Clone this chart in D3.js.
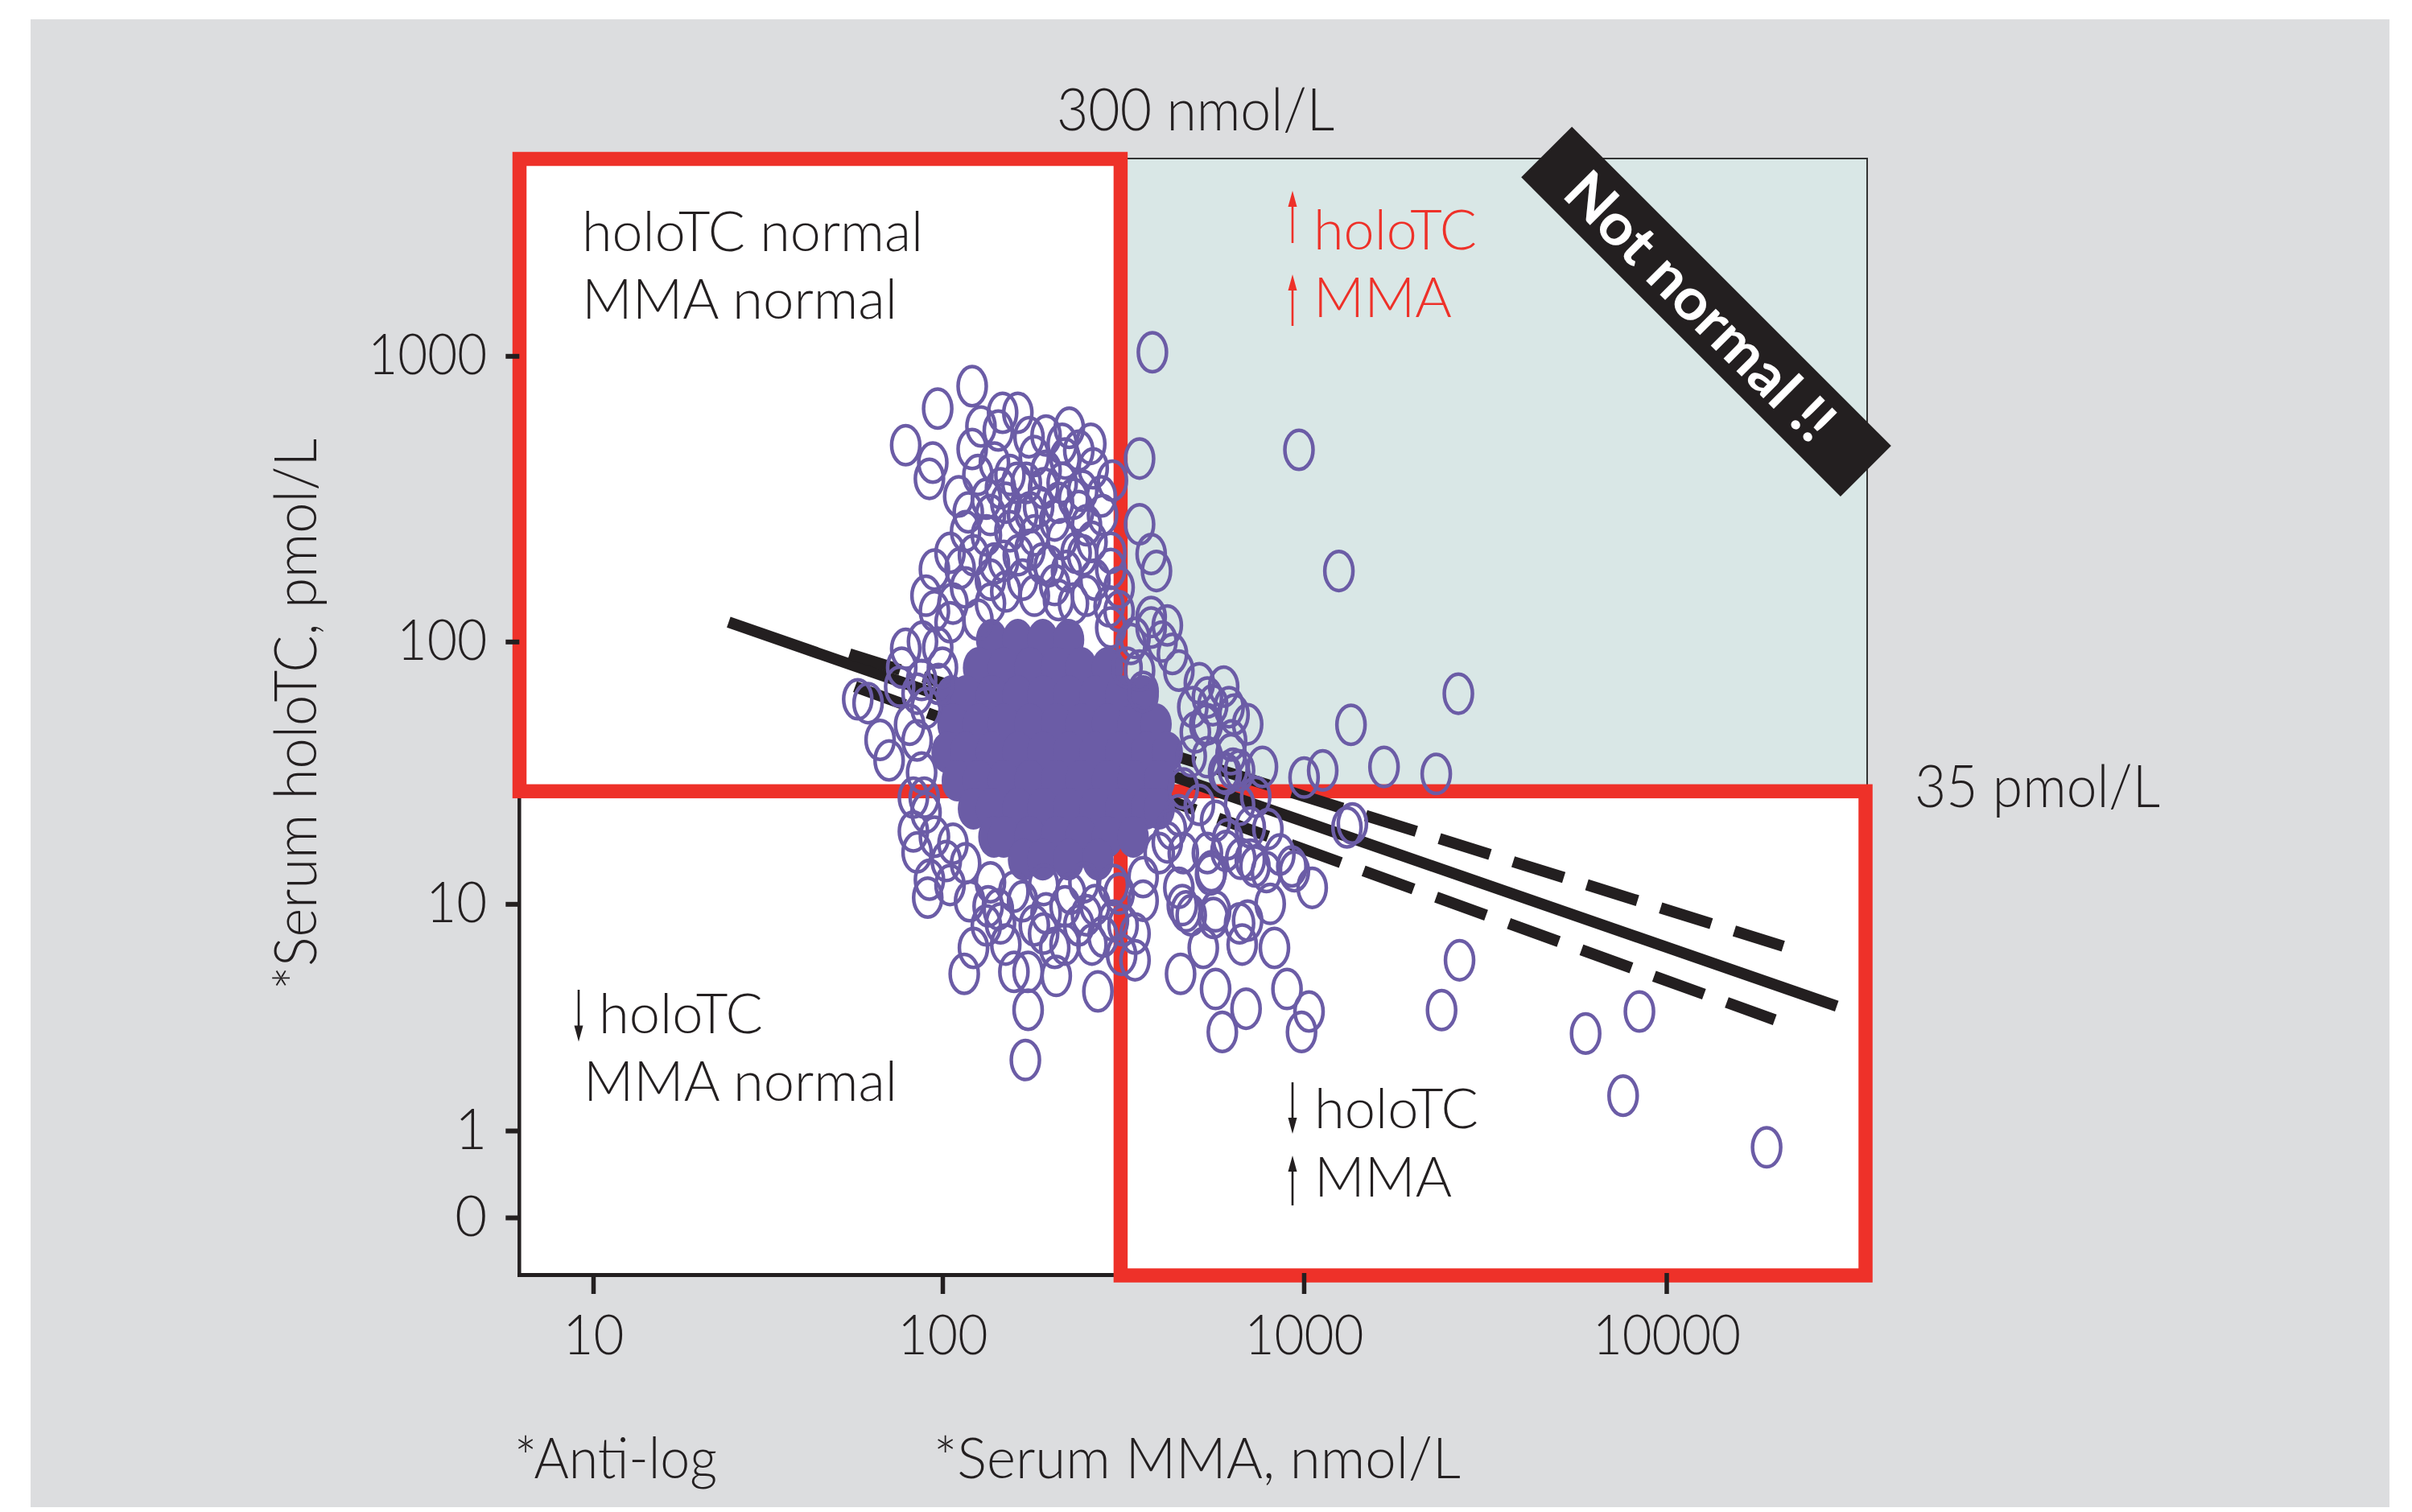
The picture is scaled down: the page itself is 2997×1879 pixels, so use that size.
<!DOCTYPE html>
<html><head><meta charset="utf-8">
<script src="https://cdn.jsdelivr.net/npm/d3@7"></script>
<style>
html,body{margin:0;padding:0;background:#fff;}
svg{display:block;}
</style></head><body>
<svg id="chart" width="2997" height="1879"></svg>
<script>
// ---------------- data ----------------
const xTickValues = [10, 100, 1000, 10000];          // Serum MMA, nmol/L
const yTickValues = [0, 1, 10, 100, 1000];           // Serum holoTC, pmol/L
const mmaCut = 312;     // vertical split as drawn (labelled 300 nmol/L)
const holoCut = 27.5;   // horizontal split as drawn (labelled 35 pmol/L)
const regressionLine = [[25, 117], [29500, 4.1]];
const upperBand = [[55, 90], [21000, 7.0]];
const lowerBand = [[57, 68], [19900, 3.6]];
// individual observations [MMA, holoTC]
const scatterPoints = [
[382,1030],[121,784],[97,655],[79,488],[94,424],[92,372],[147,633],[162,633],[128,567],[143,549],
[174,520],[225,561],[215,493],[258,493],[121,473],[180,447],[219,438],[262,405],[296,367],[352,438],
[276,323],[111,323],[145,345],[161,360],[191,345],[231,317],[118,284],[136,278],[175,284],[205,266],
[251,256],[352,258],[379,203],[392,177],[293,205],[293,180],[260,224],[235,205],[105,205],[95,179],
[112,181],[148,192],[175,210],[198,184],[136,165],[167,165],[205,158],[107,136],[231,136],[290,133],
[136,136],[105,117],[88,100],[79,94],[293,112],[379,112],[406,100],[434,90],[342,103],[601,68],
[561,58],[622,57],[533,49],[62,59],[58,61],[67,43],[77,80],[81,49],[76,68],[85,64],
[97,95],[71,36],[83,26],[89,26],[83,19.3],[85,16],[92,12.5],[91,10.6],[107,17.3],[116,14.5],
[134,9.8],[122,6.9],[115,5.5],[150,7.1],[158,5.6],[173,5.6],[173,3.96],[170,2.4],[207,5.4],[191,7.8],
[219,9.8],[260,7.1],[270,4.7],[279,7.6],[342,6.2],[342,7.8],[360,10.3],[452,11.6],[457,5.5],[489,9.1],
[528,6.9],[571,4.8],[596,3.2],[563,8.9],[553,13.1],[542,15.9],[665,8.5],[676,7.1],[670,15.1],[693,4.0],
[136,12.2],[158,11.2],[191,11.9],[247,12.2],[298,11.9],[420,17.5],[452,22.3],[1250,177],[2670,64],[1350,49],
[769,34],[1002,31],[1128,33],[1665,34],[2320,32],[1316,20],[1362,20.7],[420,114],[542,62],[642,53.5],
[665,33],[611,32],[542,37],[712,20],[616,18],[859,15.7],[927,14.1],[1055,11.6],[789,13.4],[712,15],
[556,13.5],[808,10],[571,9.4],[473,9.4],[700,8.7],[2690,6.2],[2400,3.95],[5990,3.15],[8430,3.9],[7600,1.6],
[18900,0.75],[986,3.2],[1034,3.9],[899,4.8],[830,6.9],[462,9.9],[942,13.5],[733,14.1],[610,16.2],[638,33.5],
[970,470],[630,38],[205,6.9],[515,70],[379,122],[452,78],[352,78],[494,57],[145,8.5],[219,7.1],
[314,6.5],[251,9.1],[298,8.7],
[125.5,384],[139.5,424],[154,384],[171,360],[194,397],[215,360],[245,338],[132.5,317],[150,307],[167,278],
[185,297],[210,307],[239,287],[116,244],[132.5,236],[154,244],[180,236],[215,229],[245,201],[122,201],
[139.5,188],[162.5,201],[189.5,188],[221,177],[265,165],[116,155],[150,150],[180,145],[210,140],[251,145],
[309,155],[125.5,119.5],[95,128],[90,145],[309,128],[333,98],[100,80],[87.5,72],[325,80],[360,65],
[194,527],[239,467],[278,278],
[105,11.9],[119,10.25],[143,9.56],[167,10.25],[194,9.25],[227,11.0],[265,9.9],[309,11.0],[360,12.8],[399,15.9],
[431,19.7],[465,28.2],[489,37.3],[502,45.9],[465,15.9],[132.5,8.36],[180,8.36],[239,8.36],[317,8.36],[102.5,14.8],
[95,18.4],[90,22.8],[87.5,32.4],[85,42.8],[90,56.6],[97.5,69.6],
[515,24.4],[571,21.2],[601,32.4],[665,24.4],[737,26.2],[796,19.7],[632,42.8],[700,49.2],[542,49.2]
];
// dense core of overlapping observations: holoTC row with MMA values
const denseRows = [
  {holo: 101.5, mma: [137, 162, 190, 224]},
  {holo: 79.9,  mma: [126, 148, 175, 207, 243, 287]},
  {holo: 62.7,  mma: [106, 116, 137, 162, 190, 224, 265, 312, 360]},
  {holo: 49.2,  mma: [107, 126, 148, 175, 207, 243, 287, 338, 391]},
  {holo: 38.6,  mma: [103, 116, 137, 162, 190, 224, 265, 312, 368, 420]},
  {holo: 30.2,  mma: [110, 126, 148, 175, 207, 243, 287, 338, 399]},
  {holo: 23.6,  mma: [122, 137, 162, 190, 224, 265, 312, 368, 399]},
  {holo: 18.4,  mma: [139, 148, 175, 207, 243, 287, 338]},
  {holo: 15.0,  mma: [168, 190, 224, 270]}
];

// ---------------- layout / style ----------------
const C = {grey:"#dcdddf", teal:"#d9e7e6", red:"#ee3129", black:"#231f20", purple:"#6b5ca6"};
const FONT = "Lato, 'Open Sans', sans-serif";
const plot = {left: 645.5, right: 2320, top: 197, bottom: 1585};

const x = d3.scaleSymlog().constant(1).domain([10, 10000]).range([737, 2070.5]);
const y = d3.scaleSymlog().constant(1).domain(yTickValues).range([1513, 1405, 1123.3, 797.3, 442.3]);

const svg = d3.select("#chart");
svg.append("rect").attr("x", 38).attr("y", 24).attr("width", 2931).attr("height", 1849).attr("fill", C.grey);
svg.append("rect").attr("x", plot.left).attr("y", plot.top)
  .attr("width", plot.right - plot.left).attr("height", plot.bottom - plot.top).attr("fill", "#fff");

const xc = x(mmaCut), yc = y(holoCut);
svg.append("rect").attr("x", xc).attr("y", plot.top).attr("width", plot.right - xc)
  .attr("height", yc - plot.top).attr("fill", C.teal);
svg.append("path").attr("d", `M${xc},${plot.top} H${plot.right} V${yc}`)
  .attr("fill", "none").attr("stroke", "#333").attr("stroke-width", 2);

// axis lines
svg.append("line").attr("x1", 645.3).attr("x2", 645.3).attr("y1", plot.top).attr("y2", 1587)
  .attr("stroke", C.black).attr("stroke-width", 4.5);
svg.append("line").attr("x1", 643).attr("x2", plot.right).attr("y1", 1584.5).attr("y2", 1584.5)
  .attr("stroke", C.black).attr("stroke-width", 5);

// red quadrant boxes
const redW = 17.5;
svg.append("rect").attr("x", plot.left).attr("y", plot.top + 0.5)
  .attr("width", xc - plot.left).attr("height", yc - plot.top - 0.5)
  .attr("fill", "none").attr("stroke", C.red).attr("stroke-width", redW);
svg.append("rect").attr("x", xc).attr("y", yc)
  .attr("width", plot.right - 2 - xc).attr("height", plot.bottom - yc)
  .attr("fill", "none").attr("stroke", C.red).attr("stroke-width", redW);

// regression lines
const line = d3.line().x(d => x(d[0])).y(d => y(d[1]));
svg.append("path").attr("d", line(regressionLine)).attr("fill", "none")
  .attr("stroke", C.black).attr("stroke-width", 14);
[upperBand, lowerBand].forEach(b => {
  svg.append("path").attr("d", line(b)).attr("fill", "none")
    .attr("stroke", C.black).attr("stroke-width", 14).attr("stroke-dasharray", "66 30");
});

// dense core
const densePts = denseRows.flatMap(r => r.mma.map(m => [m, r.holo]));
svg.append("g").selectAll("ellipse").data(densePts).join("ellipse")
  .attr("cx", d => x(d[0])).attr("cy", d => y(d[1])).attr("rx", 19.5).attr("ry", 26)
  .attr("fill", C.purple);
// open circles
svg.append("g").selectAll("ellipse").data(scatterPoints).join("ellipse")
  .attr("cx", d => x(d[0])).attr("cy", d => y(d[1])).attr("rx", 17.5).attr("ry", 24.3)
  .attr("fill", "none").attr("stroke", C.purple).attr("stroke-width", 4.5);

// axes (ticks + labels)
const digitLen = d => String(d).length * 36 + 4;
const gx = svg.append("g").attr("transform", "translate(0,1582)")
  .call(d3.axisBottom(x).tickValues(xTickValues).tickFormat(d3.format("d")).tickSize(26).tickPadding(26));
gx.attr("color", C.black).attr("font-family", FONT).attr("font-size", 69).attr("font-weight", 300);
gx.select(".domain").remove();
gx.selectAll(".tick line").attr("stroke-width", 5.5);
gx.selectAll(".tick text").attr("textLength", digitLen).attr("lengthAdjust", "spacingAndGlyphs");

const gy = svg.append("g").attr("transform", "translate(645.3,0)")
  .call(d3.axisLeft(y).tickValues(yTickValues).tickFormat(d3.format("d")).tickSize(17).tickPadding(23));
gy.attr("color", C.black).attr("font-family", FONT).attr("font-size", 70).attr("font-weight", 300);
gy.select(".domain").remove();
gy.selectAll(".tick line").attr("stroke-width", 6);
gy.selectAll(".tick text").attr("textLength", digitLen).attr("lengthAdjust", "spacingAndGlyphs");

// texts
const labels = [
  {s: 72, c: C.black, lines: [{t: "300 nmol/L", x: 1313, y: 162, len: 345}]},
  {s: 69.5, c: C.black, lines: [{t: "holoTC normal", x: 723, y: 311.5, len: 424}, {t: "MMA normal", x: 723, y: 396, len: 392}]},
  {s: 69.5, c: C.red,   lines: [{t: "holoTC", x: 1632, y: 309.5, len: 203}, {t: "MMA", x: 1632, y: 394, len: 172}]},
  {s: 69.5, c: C.black, lines: [{t: "holoTC", x: 744, y: 1283.5, len: 204}, {t: "MMA normal", x: 725, y: 1368, len: 390}]},
  {s: 69.5, c: C.black, lines: [{t: "holoTC", x: 1633, y: 1402, len: 204}, {t: "MMA", x: 1633, y: 1486.5, len: 171}]},
  {s: 73, c: C.black, lines: [{t: "35 pmol/L", x: 2379, y: 1003, len: 305}]},
  {s: 70, c: C.black, lines: [{t: "*Anti-log", x: 639, y: 1837, len: 252}]},
  {s: 70, c: C.black, lines: [{t: "*Serum MMA, nmol/L", x: 1160, y: 1837, len: 655}]}
];
labels.forEach(l => {
  l.lines.forEach(ln => {
    svg.append("text").attr("fill", l.c).attr("font-family", FONT)
      .attr("font-size", l.s).attr("font-weight", 300)
      .attr("x", ln.x).attr("y", ln.y)
      .attr("textLength", ln.len).attr("lengthAdjust", "spacingAndGlyphs").text(ln.t);
  });
});
svg.append("text").attr("transform", "translate(392.7,1230) rotate(-90)")
  .attr("fill", C.black).attr("font-family", FONT).attr("font-size", 72).attr("font-weight", 300)
  .attr("textLength", 685).attr("lengthAdjust", "spacingAndGlyphs").text("*Serum holoTC, pmol/L");

// small arrows
function arrow(cx, tip, tail, color) {
  const dir = tail > tip ? 1 : -1;  // 1 = pointing up
  svg.append("line").attr("x1", cx).attr("x2", cx).attr("y1", tip + dir * 12).attr("y2", tail)
    .attr("stroke", color).attr("stroke-width", 2.6);
  svg.append("path").attr("d", `M${cx},${tip} L${cx - 5.5},${tip + dir * 20} L${cx + 5.5},${tip + dir * 20} Z`)
    .attr("fill", color);
}
arrow(1606, 237, 302, C.red);
arrow(1606, 341, 405, C.red);
arrow(719, 1294.5, 1230, C.black);
arrow(1606, 1409, 1345, C.black);
arrow(1606, 1436, 1498, C.black);

// badge
const badge = svg.append("g").attr("transform", "translate(2120,387.2) rotate(45)");
badge.append("rect").attr("x", -280.5).attr("y", -44.5).attr("width", 561).attr("height", 89).attr("fill", C.black);
badge.append("text").attr("x", -10).attr("y", 0).attr("dy", "0.36em").attr("text-anchor", "middle")
  .attr("fill", "#fff").attr("font-family", FONT).attr("font-weight", 700).attr("font-size", 72)
  .attr("textLength", 440).attr("lengthAdjust", "spacingAndGlyphs").text("Not normal !!");
</script>
</body></html>
